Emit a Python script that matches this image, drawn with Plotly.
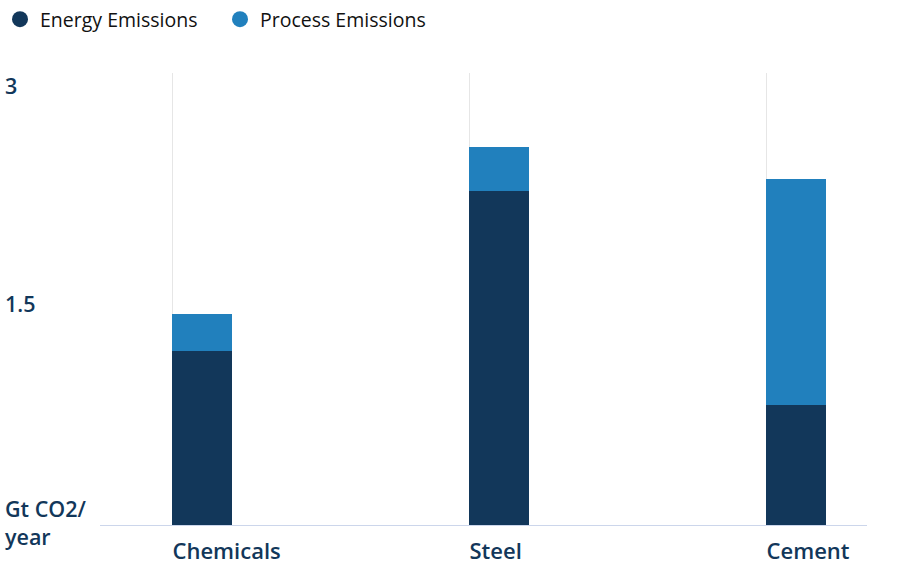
import plotly.graph_objects as go

categories = ["Chemicals", "Steel", "Cement"]
energy = [1.18, 2.26, 0.81]
process = [0.25, 0.30, 1.53]
series_names = ["Energy Emissions", "Process Emissions"]
y_tickvals = [0, 1.5, 3]
y_ticktext = ["Gt CO2/<br>year", "1.5", "3"]

DARK = "#12375a"
BLUE = "#2180bd"
FONT = "Open Sans"

W, H = 906, 567
ML, MR, MT, MB = 100, 39, 73, 42
plot_w = W - ML - MR

fig = go.Figure()
fig.add_trace(go.Bar(x=categories, y=energy, name=series_names[0], marker_color=DARK,
                     offset=0, width=0.202, showlegend=False, marker_line_width=0))
fig.add_trace(go.Bar(x=categories, y=process, name=series_names[1], marker_color=BLUE,
                     offset=0, width=0.202, showlegend=False, marker_line_width=0))
# legend entries with circular symbols
for name, col in zip(series_names, [DARK, BLUE]):
    fig.add_trace(go.Scatter(x=[None], y=[None], mode="markers", name=name,
                             marker=dict(symbol="circle", size=22, color=col)))

annotations = []
for v, t in zip(y_tickvals, y_ticktext):
    annotations.append(dict(x=-ML / plot_w, xref="paper", y=v, yref="y", text=t, showarrow=False,
                            xanchor="left", yanchor="middle", align="left", xshift=3,
                            yshift=(-4 if v == 3 else 3 if v == 0 else 0),
                            font=dict(family=FONT, size=21.5, color=DARK, weight=600)))

fig.update_layout(
    width=W, height=H,
    barmode="stack",
    plot_bgcolor="white", paper_bgcolor="white",
    margin=dict(l=ML, r=MR, t=MT, b=MB, autoexpand=False),
    font=dict(family=FONT, size=18, color="#111111"),
    legend=dict(orientation="h", xref="container", yref="container", x=0, y=1,
                xanchor="left", yanchor="top", itemsizing="trace", traceorder="normal",
                font=dict(family=FONT, size=19.5, color="#111111"),
                entrywidth=175, entrywidthmode="pixels"),
    annotations=annotations,
    xaxis=dict(type="category", range=[-0.2424, 2.340], showgrid=True, gridcolor="#e6e6e6",
               gridwidth=1, showline=True, linecolor="#ccd6eb", linewidth=1, ticks="",
               automargin=False,
               ticklabelposition="outside right", ticklabelstandoff=7, zeroline=False,
               tickfont=dict(family=FONT, size=22, color=DARK, weight=600)),
    yaxis=dict(range=[0, 3.06], showgrid=False, zeroline=False, showticklabels=False,
               automargin=False, tickvals=y_tickvals),
)

fig.write_html("out.html", config={"displayModeBar": False},
               post_script="document.body.style.margin='0';")
